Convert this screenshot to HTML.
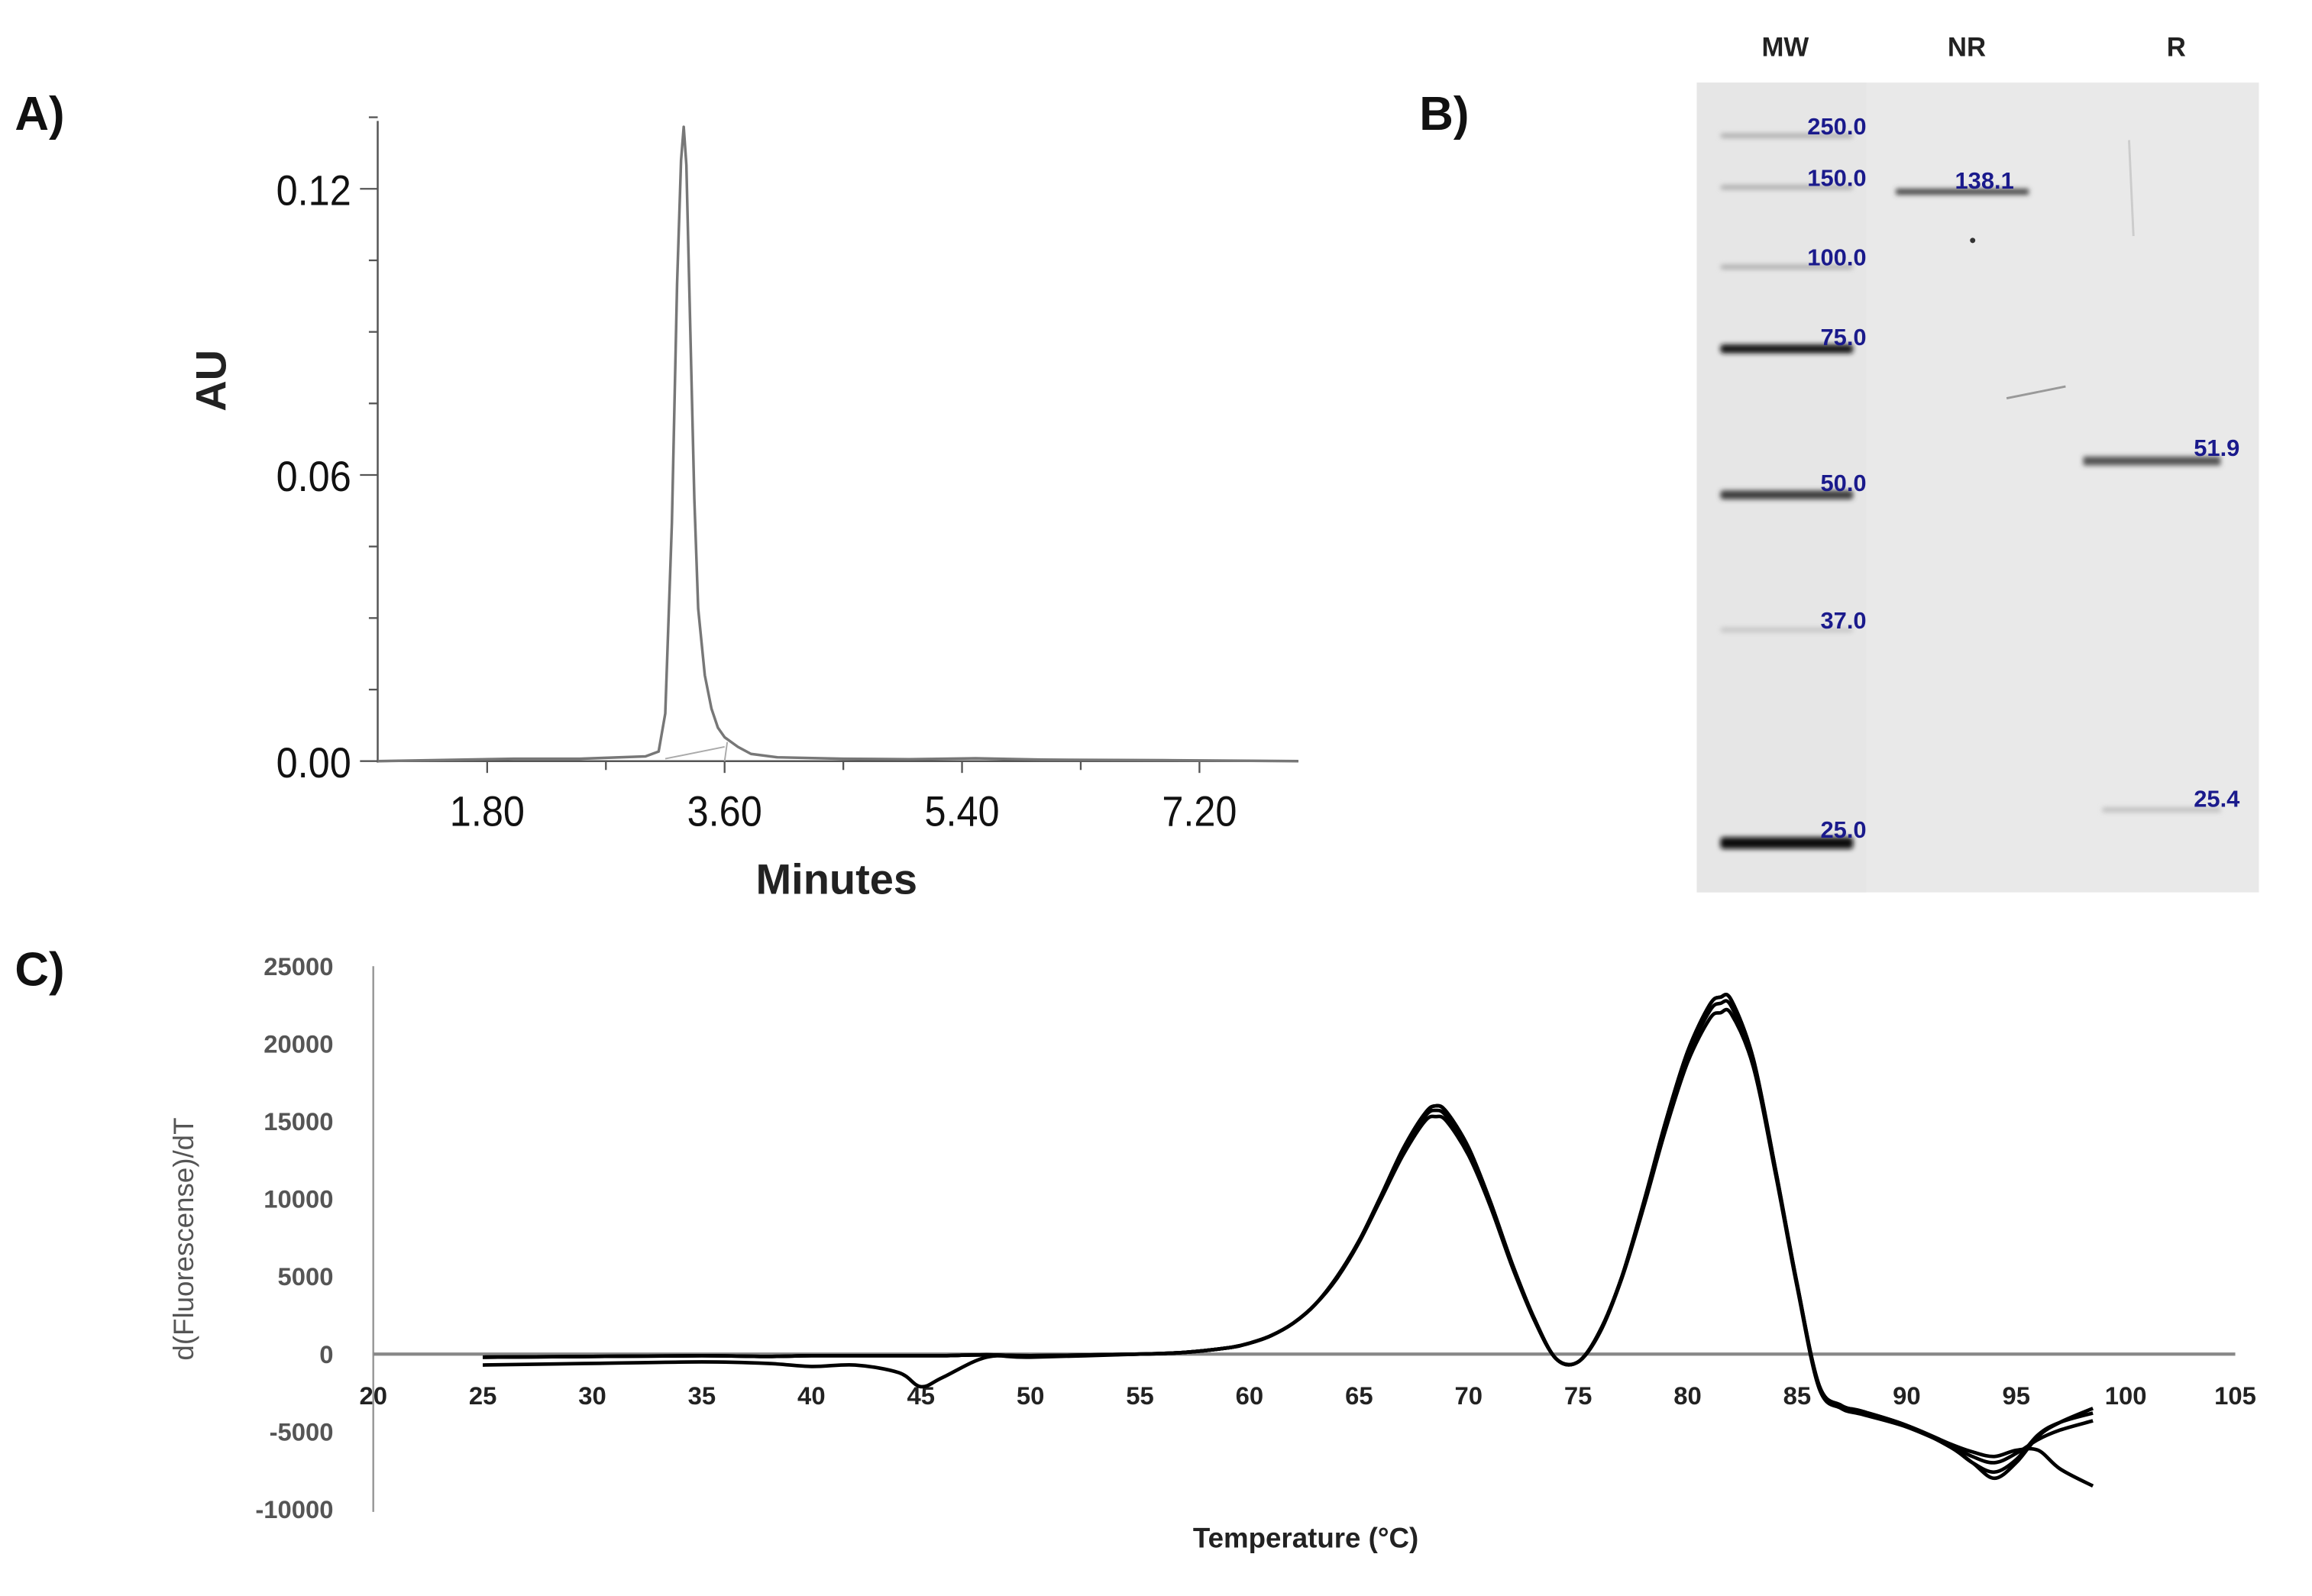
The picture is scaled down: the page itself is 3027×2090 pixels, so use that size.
<!DOCTYPE html>
<html><head><meta charset="utf-8"><style>
html,body{margin:0;padding:0;background:#fff;}
svg{display:block;}
text{font-family:"Liberation Sans",sans-serif;}
</style></head><body>
<svg id="fig" width="3027" height="2090" viewBox="0 0 1567 1082" preserveAspectRatio="none" xmlns="http://www.w3.org/2000/svg">
<defs>
<filter id="blur" x="-10%" y="-200%" width="120%" height="500%"><feGaussianBlur stdDeviation="1.6"/></filter>
</defs>
<g id="panelA"></g>
<g id="panelB"></g>
<g id="panelC"></g>
</svg>
<script>
// ---- Panel A data ----
const aXTicks = [1.8, 3.6, 5.4, 7.2];
const aXTickLabels = ["1.80", "3.60", "5.40", "7.20"];
const aYTicks = [0, 0.06, 0.12];
const aYTickLabels = ["0.00", "0.06", "0.12"];
const aTime = [0.97,2.0,2.5,3.0,3.1,3.15,3.2,3.24,3.27,3.29,3.31,3.34,3.37,3.4,3.45,3.5,3.55,3.6,3.7,3.8,4.0,4.5,5.0,5.5,6.0,7.0,7.95];
const aAU = [0.0,0.0005,0.0005,0.001,0.002,0.01,0.05,0.1,0.126,0.133,0.125,0.09,0.055,0.032,0.018,0.011,0.007,0.005,0.003,0.0015,0.0008,0.0005,0.0004,0.0006,0.0003,0.0002,0.0];
// ---- Panel B data ----
const gelMarkers = [250.0, 150.0, 100.0, 75.0, 50.0, 37.0, 25.0];
const gelMarkerLabels = ["250.0","150.0","100.0","75.0","50.0","37.0","25.0"];
const gelMarkerIntensity = [0.35,0.35,0.35,0.95,0.8,0.25,1.0];
const gelNR = [138.1];
const gelR = [51.9, 25.4];
const gelRIntensity = [0.75, 0.3];
// ---- Panel C data ----
const cTemps = [25,30,35,38,40,42,44,45,46,48,50,55,57,59,60,61,62,63,64,65,66,67,68,68.5,69,70,71,72,73,74,75,76,77,78,79,80,81,81.5,82,83,84,85,86,87,88,90,92,93,94,95,96,97,98.5];
const cSeriesA = [-200,-150,-100,-150,-100,-100,-100,-100,-100,-50,-100,0,100,400,700,1200,2000,3200,5000,7300,10200,13200,15500,16000,15600,13300,9800,5800,2300,-300,-500,1500,5000,9800,15000,19500,22500,23000,22800,19000,12000,4500,-2000,-3300,-3700,-4600,-6000,-7000,-8000,-7000,-5300,-4400,-3500];
const cSeriesB = [-200,-150,-100,-150,-100,-100,-100,-100,-100,-50,-100,0,100,400,700,1200,2000,3200,5000,7300,10100,13000,15300,15700,15300,13000,9600,5700,2200,-300,-500,1500,5000,9700,14800,19200,22100,22600,22400,18700,11800,4400,-2100,-3400,-3800,-4600,-5800,-6300,-6600,-6200,-6200,-7400,-8500];
const cSeriesC = [-200,-150,-100,-150,-100,-100,-100,-100,-100,-50,-100,0,100,400,700,1200,2000,3200,4900,7200,10000,12800,15000,15300,15000,12800,9500,5600,2200,-300,-500,1400,4900,9500,14500,18800,21600,22000,21900,18500,11700,4300,-2200,-3500,-3900,-4700,-5900,-6600,-7000,-6400,-5500,-4900,-4300];
const cSeriesD = [-700,-600,-500,-600,-800,-700,-1200,-2100,-1500,-200,-200,0,100,400,700,1200,2000,3200,5000,7300,10200,13200,15500,16000,15600,13300,9800,5800,2300,-300,-500,1500,5000,9800,15000,19500,22500,23000,22800,19000,12000,4500,-2000,-3300,-3700,-4600,-6000,-7000,-7600,-6800,-5200,-4400,-3800];
const cYTicks = [25000,20000,15000,10000,5000,0,-5000,-10000];
const cXTicks = [20,25,30,35,40,45,50,55,60,65,70,75,80,85,90,95,100,105];

const NS = "http://www.w3.org/2000/svg";
function mk(parent, tag, attrs, txt){
  const e = document.createElementNS(NS, tag);
  for (const k in attrs) e.setAttribute(k, attrs[k]);
  if (txt !== undefined) e.textContent = txt;
  parent.appendChild(e);
  return e;
}

// ================= Panel A =================
const A = document.getElementById('panelA');
const ax = v => 256 + (v - 0.97) * (624 / (7.95 - 0.97));
const ay = v => 516 - v * (194 / 0.06);
let t = mk(A,'text',{x:10,y:88,'font-size':32,'font-weight':'bold',fill:'#111'},'A)');


let l = mk(A,'line',{x1:256,y1:82,x2:256,y2:517,stroke:'#555','stroke-width':1.3});


l = mk(A,'line',{x1:256,y1:516,x2:880,y2:516,stroke:'#555','stroke-width':1.3});


for (let v = 0; v <= 0.135; v += 0.015) {
  const y = ay(v);
  const major = Math.abs(v/0.06 - Math.round(v/0.06)) < 1e-6;
  mk(A,'line',{x1: major ? 244 : 250, y1:y, x2:256, y2:y, stroke:'#555','stroke-width':1.2});
}
aYTicks.forEach((v,i)=>{
  const tx = mk(A,'text',{x:238,y:ay(v)+11,'font-size':29,'text-anchor':'end',fill:'#111',transform:`scale(0.9,1)`,'transform-origin':`238 ${ay(v)}`},aYTickLabels[i]);
  
  
});
for (let v = 0.9; v <= 7.95; v += 0.9) {
  if (v < 0.97) continue;
  const x = ax(v);
  const major = Math.abs(v/1.8 - Math.round(v/1.8)) < 1e-6;
  mk(A,'line',{x1:x, y1:516, x2:x, y2: major ? 524 : 522, stroke:'#555','stroke-width':1.2});
}
aXTicks.forEach((v,i)=>{
  const tx = mk(A,'text',{x:ax(v),y:560,'font-size':29,'text-anchor':'middle',fill:'#111',transform:'scale(0.9,1)','transform-origin':`${ax(v)} 560`},aXTickLabels[i]);
  
  
});
t = mk(A,'text',{x:567,y:606,'font-size':29,'font-weight':'bold','text-anchor':'middle',fill:'#222'},'Minutes');


t = mk(A,'text',{x:0,y:0,'font-size':29,'font-weight':'bold','text-anchor':'middle',fill:'#222',transform:'translate(153,258) rotate(-90)'},'AU');


let dA = aTime.map((v,i)=>(i?'L':'M')+ax(v).toFixed(1)+' '+ay(aAU[i]).toFixed(1)).join(' ');
let p = mk(A,'path',{d:dA,fill:'none',stroke:'#777','stroke-width':1.8,'stroke-linejoin':'round'});


p = mk(A,'path',{d:`M${ax(3.15)} ${ay(0.0005)} L${ax(3.6)} ${ay(0.003)} M${ax(3.6)} ${ay(0)} L${ax(3.62)} ${ay(0.004)}`,fill:'none',stroke:'#aaa','stroke-width':1});



// ================= Panel B =================
const B = document.getElementById('panelB');
t = mk(B,'text',{x:962,y:88,'font-size':32,'font-weight':'bold',fill:'#111'},'B)');


let r = mk(B,'rect',{x:1150,y:56,width:381,height:549,fill:'#e9e9e9'});


mk(B,'rect',{x:1150,y:56,width:115,height:549,fill:'#e6e6e6'});
const laneLabels = [["MW",1210],["NR",1333],["R",1475]];
laneLabels.forEach(([s,x])=>{
  const tx = mk(B,'text',{x:x,y:38,'font-size':18,'font-weight':'bold','text-anchor':'middle',fill:'#222'},s);
  
  
});
const gy = mw => 93 + (Math.log10(250) - Math.log10(mw)) * 476 / (Math.log10(250)-Math.log10(25));
const gyAdj = mw => mw===75?236:mw===50?335:mw===37?428:mw===25?570:mw===100?182:mw===150?128:gy(mw);
gelMarkers.forEach((mw,i)=>{
  const y = gyAdj(mw);
  const g = Math.round(255*(1-gelMarkerIntensity[i]*0.95));
  const b = mk(B,'rect',{x:1166,y:y-2.5,width:90,height:mw===25?8:(gelMarkerIntensity[i]>0.5?6:3),rx:2,fill:`rgb(${g},${g},${g})`,filter:'url(#blur)'});
  
  
  const tx = mk(B,'text',{x:1265,y:y-2,'font-size':16,'font-weight':'bold','text-anchor':'end',fill:'#1a1a8c'},gelMarkerLabels[i]);
  
  
});
gelNR.forEach(mw=>{
  const y = 130;
  const b = mk(B,'rect',{x:1285,y:y-2,width:90,height:4,fill:'#444',filter:'url(#blur)'});
  
  
  const tx = mk(B,'text',{x:1365,y:y-2,'font-size':16,'font-weight':'bold','text-anchor':'end',fill:'#1a1a8c'},mw.toFixed(1));
  
  
});
gelR.forEach((mw,i)=>{
  const y = mw > 40 ? 312 : 550;
  const g = Math.round(255*(1-gelRIntensity[i]*0.9));
  const b = mk(B,'rect',{x:mw>40?1412:1425,y:y-2.5,width:mw>40?93:80,height:mw>40?6:3,fill:`rgb(${g},${g},${g})`,filter:'url(#blur)'});
  
  
  const tx = mk(B,'text',{x:1518,y:y-3,'font-size':16,'font-weight':'bold','text-anchor':'end',fill:'#1a1a8c'},mw.toFixed(1));
  
  
});
mk(B,'line',{x1:1360,y1:270,x2:1400,y2:262,stroke:'#999','stroke-width':1.5});
mk(B,'line',{x1:1443,y1:95,x2:1446,y2:160,stroke:'#ccc','stroke-width':1.5});
mk(B,'circle',{cx:1337,cy:163,r:1.8,fill:'#333'});

// ================= Panel C =================
const C = document.getElementById('panelC');
const cx = v => 253 + (v - 20) * (1262/85);
const cy = v => 918 - v * (52.6/5000);
t = mk(C,'text',{x:10,y:668,'font-size':32,'font-weight':'bold',fill:'#111'},'C)');


l = mk(C,'line',{x1:253,y1:655,x2:253,y2:1025,stroke:'#999','stroke-width':1.3});


l = mk(C,'line',{x1:253,y1:cy(0),x2:1515,y2:cy(0),stroke:'#888','stroke-width':2.2});


cYTicks.forEach(v=>{
  const tx = mk(C,'text',{x:226,y:cy(v)+6,'font-size':17,'font-weight':'bold','text-anchor':'end',fill:'#555'},String(v));
  
  
});
cXTicks.forEach(v=>{
  const tx = mk(C,'text',{x:cx(v),y:952,'font-size':17,'font-weight':'bold','text-anchor':'middle',fill:'#222'},String(v));
  
  
});
t = mk(C,'text',{x:885,y:1049,'font-size':19,'font-weight':'bold','text-anchor':'middle',fill:'#222'},'Temperature (°C)');


t = mk(C,'text',{x:0,y:0,'font-size':19,'text-anchor':'middle',fill:'#555',transform:'translate(131,840) rotate(-90)'},'d(Fluorescense)/dT');


function smooth(xs, ys){
  const P = xs.map((x,i)=>[cx(x), cy(ys[i])]);
  let d = `M${P[0][0].toFixed(1)} ${P[0][1].toFixed(1)}`;
  for (let i=0;i<P.length-1;i++){
    const p0=P[Math.max(0,i-1)],p1=P[i],p2=P[i+1],p3=P[Math.min(P.length-1,i+2)];
    const c1=[p1[0]+(p2[0]-p0[0])/6,p1[1]+(p2[1]-p0[1])/6];
    const c2=[p2[0]-(p3[0]-p1[0])/6,p2[1]-(p3[1]-p1[1])/6];
    d+=` C${c1[0].toFixed(1)} ${c1[1].toFixed(1)} ${c2[0].toFixed(1)} ${c2[1].toFixed(1)} ${p2[0].toFixed(1)} ${p2[1].toFixed(1)}`;
  }
  return d;
}
[cSeriesA,cSeriesB,cSeriesC,cSeriesD].forEach((s,i)=>{
  const pth = mk(C,'path',{d:smooth(cTemps,s),fill:'none',stroke:'#000','stroke-width':2.4});
  
  
});
</script>
</body></html>
